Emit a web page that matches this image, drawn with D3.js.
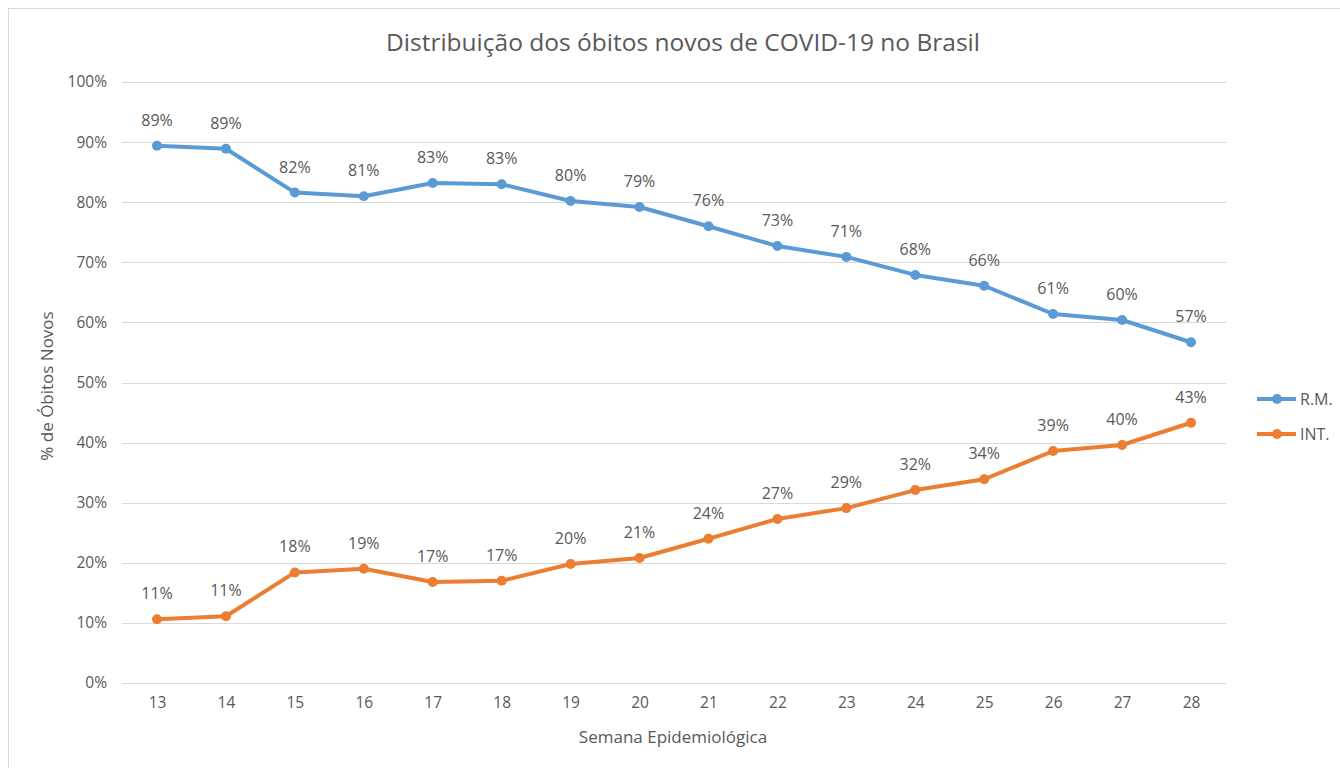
<!DOCTYPE html>
<html><head><meta charset="utf-8">
<script src="https://cdn.jsdelivr.net/npm/d3@7"></script>
<style>body{margin:0;background:#fff}text{font-family:"Open Sans",sans-serif;fill:#595959}</style>
</head><body><svg id="c" width="1340" height="768"></svg>
<script>
const weeks = [13,14,15,16,17,18,19,20,21,22,23,24,25,26,27,28];
const rmValues = [89.4,88.9,81.6,81.0,83.2,83.0,80.2,79.2,76.0,72.7,70.9,67.9,66.1,61.4,60.4,56.7];
const intValues = [10.6,11.1,18.4,19.0,16.8,17.0,19.8,20.8,24.0,27.3,29.1,32.1,33.9,38.6,39.6,43.3];
const yTicks = [0,10,20,30,40,50,60,70,80,90,100];
const seriesNames = ["R.M.","INT."];
const colors = ["#5b9bd5","#ed7d31"];

const svg = d3.select("#c");
svg.append("rect").attr("x",8.5).attr("y",8.5).attr("width",1340).attr("height",768).attr("fill","#fff").attr("stroke","#d9d9d9");

const x = d3.scalePoint().domain(weeks).range([157,1191]);
const y = d3.scaleLinear().domain([0,100]).range([683,82]);

const g = svg.append("g");
g.selectAll("line.grid").data(yTicks).join("line")
  .attr("x1",122).attr("x2",1226).attr("y1",d=>Math.round(y(d))+0.5).attr("y2",d=>Math.round(y(d))+0.5)
  .attr("stroke","#d9d9d9").attr("stroke-width",1);

const yAxis = d3.axisLeft(y).tickValues(yTicks).tickFormat(d=>d+"%").tickSize(0).tickPadding(15);
const ya = svg.append("g").attr("transform","translate(122,0)").call(yAxis);
ya.select(".domain").remove();
ya.selectAll("text").attr("font-size",15.5).style("font-family","Open Sans").attr("fill","#595959");

const xAxis = d3.axisBottom(x).tickSize(0).tickPadding(14);
const xa = svg.append("g").attr("transform","translate(0,683)").call(xAxis);
xa.select(".domain").remove();
xa.selectAll("text").attr("font-size",15.5).attr("fill","#595959");

svg.append("text").attr("x",683).attr("y",51).attr("text-anchor","middle").attr("font-size",24.5).text("Distribuição dos óbitos novos de COVID-19 no Brasil");
svg.append("text").attr("x",673).attr("y",743).attr("text-anchor","middle").attr("font-size",17).text("Semana Epidemiológica");
svg.append("text").attr("transform","translate(53,386) rotate(-90)").attr("text-anchor","middle").attr("font-size",17).text("% de Óbitos Novos");

const data = [rmValues,intValues];
const line = d3.line().x((d,i)=>x(weeks[i])).y(d=>y(d));
data.forEach((vals,k)=>{
  svg.append("path").datum(vals).attr("d",line).attr("fill","none").attr("stroke",colors[k]).attr("stroke-width",4).attr("stroke-linejoin","round").attr("stroke-linecap","round");
  svg.selectAll(null).data(vals).join("circle").attr("cx",(d,i)=>x(weeks[i])).attr("cy",d=>y(d)).attr("r",5).attr("fill",colors[k]);
  svg.selectAll(null).data(vals).join("text").attr("x",(d,i)=>x(weeks[i])).attr("y",d=>y(d)-20)
    .attr("text-anchor","middle").attr("font-size",16).text(d=>Math.round(d)+"%");
});

seriesNames.forEach((n,k)=>{
  const ly = 399 + k*35;
  svg.append("line").attr("x1",1257).attr("x2",1296).attr("y1",ly).attr("y2",ly).attr("stroke",colors[k]).attr("stroke-width",4);
  svg.append("circle").attr("cx",1277).attr("cy",ly).attr("r",5).attr("fill",colors[k]);
  svg.append("text").attr("x",1300).attr("y",ly+5.5).attr("font-size",16).text(n);
});
</script></body></html>
